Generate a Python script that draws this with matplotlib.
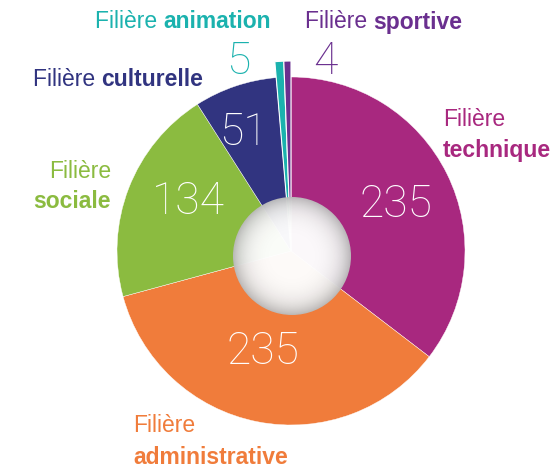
import numpy as np
import matplotlib.pyplot as plt
from matplotlib.patches import Circle

# data
filieres = ['technique', 'administrative', 'sociale', 'culturelle', 'animation', 'sportive']
effectifs = [235, 235, 134, 51, 5, 4]
couleurs = ['#A8287F', '#F07C3B', '#8BBB40', '#313480', '#1BB2AE', '#6A2F8F']

W, H = 555, 468
fig = plt.figure(figsize=(W / 100, H / 100), dpi=100)
ax = fig.add_axes([0, 0, 1, 1])

def fy(y):
    # pixel row -> data y
    return H - y

cx, cy, R = 291, fy(251), 174
wedges, _ = ax.pie(effectifs, colors=couleurs, startangle=90, counterclock=False,
                   radius=R, center=(cx, cy),
                   wedgeprops=dict(edgecolor='white', linewidth=0.3))
# the two small slices stick out
for w in wedges[4:]:
    w.set_radius(190)
    w.set_linewidth(0.8)

ax.set_xlim(0, W)
ax.set_ylim(0, H)
ax.set_aspect('equal')
ax.axis('off')

# shaded hole in the middle
hx, hy, hr = 292, fy(256), 59
xx, yy = np.meshgrid(np.linspace(-1, 1, 300), np.linspace(-1, 1, 300))
rr = np.clip(np.sqrt(xx**2 + yy**2), 0, 1)
g = 1 - 0.27 * rr**4.5
img = np.dstack([g, g, g, np.full_like(g, 0.98)])
im = ax.imshow(img, extent=(hx - hr, hx + hr, hy - hr, hy + hr), zorder=3)
im.set_clip_path(Circle((hx, hy), hr, transform=ax.transData))

# labels
lab = dict(family=['Liberation Sans', 'DejaVu Sans'], fontsize=16.5)
num = dict(family=['Roboto', 'DejaVu Sans'], fontweight='light', fontsize=32)

fig.canvas.draw()
rend = fig.canvas.get_renderer()

def label(x, y, mot, col, ha='left', two_lines=False):
    if two_lines:
        ax.text(x, fy(y), 'Filière', color=col, ha=ha, va='center', **lab)
        ax.text(x, fy(y + 31), mot, color=col, ha=ha, va='center', fontweight='bold', **lab)
    else:
        t = ax.text(x, fy(y), 'Filière ', color=col, ha='left', va='center', **lab)
        bb = t.get_window_extent(renderer=rend)
        x2 = ax.transData.inverted().transform((bb.x1, 0))[0]
        ax.text(x2, fy(y), mot, color=col, ha='left', va='center', fontweight='bold', **lab)

label(443, 120, filieres[0], couleurs[0], two_lines=True)
label(133, 426, filieres[1], couleurs[1], two_lines=True)
label(111, 171, filieres[2], couleurs[2], ha='right', two_lines=True)
label(33, 79, filieres[3], couleurs[3])
label(95, 22, filieres[4], couleurs[4])
label(305, 22, filieres[5], couleurs[5])

ax.text(396, fy(205), str(effectifs[0]), color='white', ha='center', va='center', **num)
ax.text(263, fy(352), str(effectifs[1]), color='white', ha='center', va='center', **num)
ax.text(188, fy(202), str(effectifs[2]), color='white', ha='center', va='center', **num)
ax.text(243, fy(133), str(effectifs[3]), color='white', ha='center', va='center', **num)
ax.text(238, fy(62), str(effectifs[4]), color=couleurs[4], ha='center', va='center', **num)
ax.text(325, fy(62), str(effectifs[5]), color=couleurs[5], ha='center', va='center', **num)

fig.savefig('out.png', dpi=100)
